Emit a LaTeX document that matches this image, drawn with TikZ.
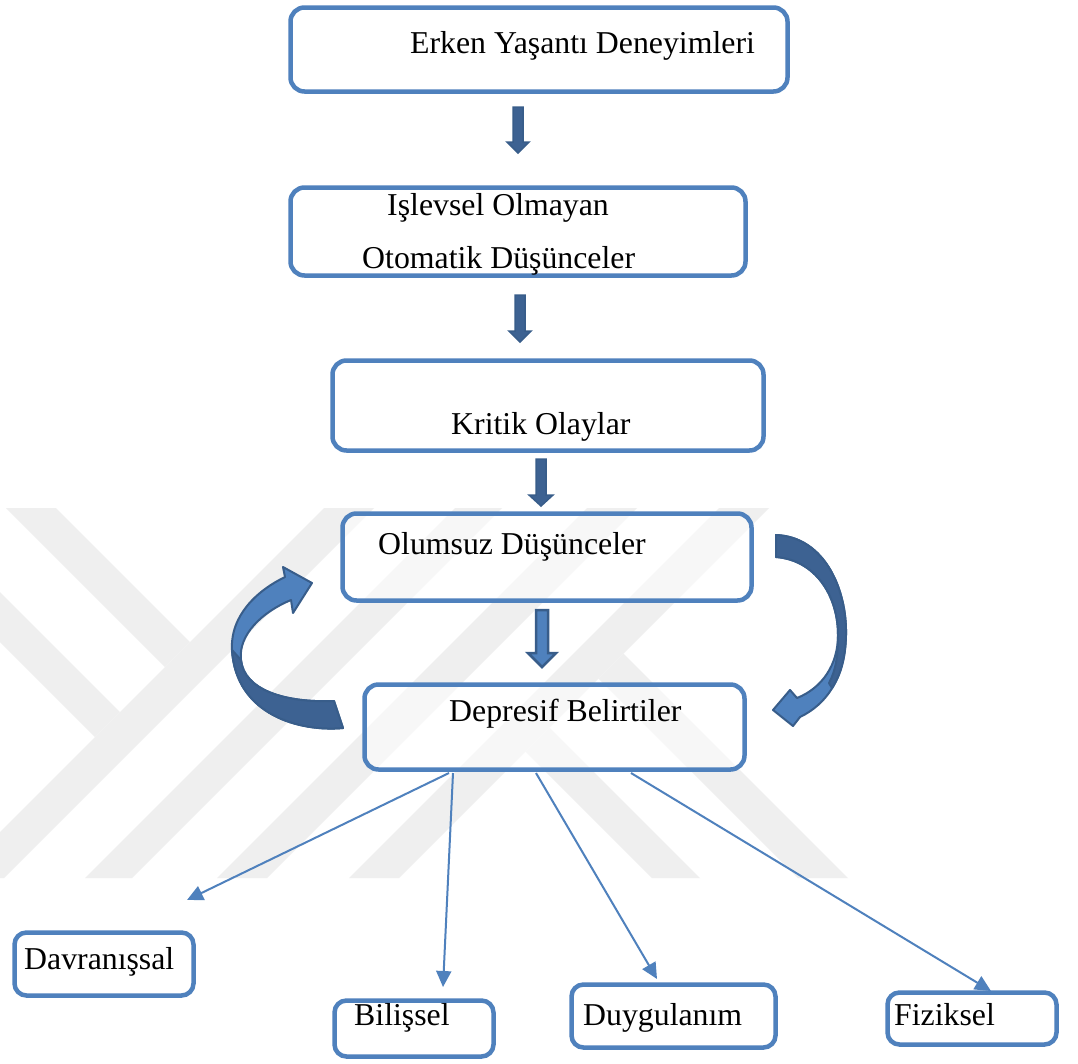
\documentclass[tikz,border=0pt]{standalone}
\usepackage{fontspec}
\setmainfont{Liberation Serif}
\usetikzlibrary{arrows.meta}
\definecolor{boxblue}{RGB}{79,129,189}
\definecolor{darkblue}{RGB}{61,98,146}
\definecolor{edgeblue}{RGB}{56,93,138}
\definecolor{wmgray}{RGB}{239,239,239}
\newcommand\blockarr[7][]{\path[blk,#1] (#2-#6,#3) -- (#2+#6,#3) -- (#2+#6,#4) -- (#2+#7,#4) -- (#2,#5) -- (#2-#7,#4) -- (#2-#6,#4) -- cycle;}
\begin{document}
\begin{tikzpicture}[x=1pt,y=-1pt,
  box/.style={draw=boxblue, line width=4.5pt, rounded corners=14pt, fill=white, fill opacity=0.55, inner sep=0pt},
  lbl/.style={anchor=base west, inner sep=0pt, font=\fontsize{31.8pt}{38pt}\selectfont},
  thinarr/.style={draw=boxblue, line width=2pt, -{Triangle[length=16pt,width=15pt]}},
  blk/.style={fill=darkblue, draw=edgeblue, line width=1.5pt, line join=miter},
  curv/.style={draw=edgeblue, line width=2pt, line join=round},
  wm/.style={fill=wmgray, draw=none}]
\useasboundingbox (0,0) rectangle (1078,1063);
\fill[white] (0,0) rectangle (1078,1063);
% watermark
\begin{scope}
\clip (0,508) rectangle (1078,878);
\path[wm] (324,508) -- (374,508) -- (4,878) -- (-46,878) -- cycle;
\path[wm] (455,508) -- (502,508) -- (132,878) -- (85,878) -- cycle;
\path[wm] (587,508) -- (637,508) -- (267,878) -- (217,878) -- cycle;
\path[wm] (719,508) -- (769,508) -- (399,878) -- (349,878) -- cycle;
\path[wm] (6,508) -- (56,508) -- (190,642) -- (165,667) -- cycle;
\path[wm] (0,592) -- (120,712) -- (95,737) -- (0,642) -- cycle;
\path[wm] (623.5,653.5) -- (848,878) -- (798,878) -- (598.5,678.5) -- cycle;
\path[wm] (549.5,727.5) -- (700,878) -- (652,878) -- (525.5,751.5) -- cycle;
\end{scope}
% boxes
\node[box, minimum width=497pt, minimum height=84pt] (erken) at (539,49.5) {};
\node[box, minimum width=455pt, minimum height=88pt] (isl) at (518,231.5) {};
\node[box, minimum width=431pt, minimum height=90pt] (krit) at (548,405.5) {};
\node[box, minimum width=409pt, minimum height=87pt] (olum) at (547,557) {};
\node[box, minimum width=380pt, minimum height=85pt] (dep) at (554.5,727) {};
\node[box, minimum width=179pt, minimum height=63pt, rounded corners=12pt] (dav) at (104,964) {};
\node[box, minimum width=159pt, minimum height=56pt, rounded corners=12pt] (bil) at (414,1028.5) {};
\node[box, minimum width=204pt, minimum height=63pt, rounded corners=12pt] (duy) at (673.5,1016) {};
\node[box, minimum width=169pt, minimum height=52pt, rounded corners=12pt] (fiz) at (972,1018.5) {};
% texts
\node[lbl] (t1) at (410,53) {Erken Yaşantı Deneyimleri};
\node[lbl] (t2) at (387,215) {Işlevsel Olmayan};
\node[lbl] (t3) at (362,268) {Otomatik Düşünceler};
\node[lbl] (t4) at (451,434) {Kritik Olaylar};
\node[lbl] (t5) at (378,554) {Olumsuz Düşünceler};
\node[lbl] (t6) at (449,721) {Depresif Belirtiler};
\node[lbl] (t7) at (24,969) {Davranışsal};
\node[lbl] (t8) at (354,1025) {Bilişsel};
\node[lbl] (t9) at (583,1025) {Duygulanım};
\node[lbl] (t10) at (894,1025) {Fiziksel};
% block arrows
\blockarr{518}{107}{142}{153}{5}{11}
\blockarr{520}{295}{331}{342}{5}{11}
\blockarr{541}{459}{495}{506}{5}{12}
\blockarr[fill=boxblue, line width=2.5pt]{542}{610}{653}{667}{6}{14}
% curved arrows
\path[curv, fill=boxblue] (343,728) .. controls (300,732) and (236,715) .. (232,650) .. controls (230,615) and (258,590) .. (285,577) -- (283,567) -- (312,583) -- (293,613) -- (291,600) .. controls (262,612) and (238,635) .. (241,660) .. controls (244,690) and (285,703) .. (334,701) -- cycle;
\path[curv, fill=darkblue] (343,728) .. controls (300,732) and (236,715) .. (232,650) -- (241,660) .. controls (244,690) and (285,703) .. (334,701) -- cycle;
\path[curv, fill=boxblue] (776,535) .. controls (825,537) and (847,590) .. (846,635) .. controls (845,680) and (825,705) .. (800,717) -- (793,726) -- (773,710) -- (790,690) -- (797,698) .. controls (822,688) and (838,665) .. (838,635) .. controls (838,595) and (815,560) .. (776,557) -- cycle;
\path[curv, fill=darkblue] (776,535) .. controls (825,537) and (847,590) .. (846,635) .. controls (845.5,660) and (840,676) .. (832,688) -- (829,683) .. controls (836,670) and (838,655) .. (838,635) .. controls (838,595) and (815,560) .. (776,557) -- cycle;
% thin arrows
\coordinate (s1) at (449,773);
\coordinate (s2) at (453,773);
\coordinate (s3) at (536,773);
\coordinate (s4) at (631,773);
\coordinate (e1) at (187,900);
\coordinate (e2) at (443,987);
\coordinate (e3) at (657,979);
\coordinate (e4) at (991,991);
\draw[thinarr] (s1) -- (e1);
\draw[thinarr] (s2) -- (e2);
\draw[thinarr] (s3) -- (e3);
\draw[thinarr] (s4) -- (e4);
\end{tikzpicture}
\end{document}
